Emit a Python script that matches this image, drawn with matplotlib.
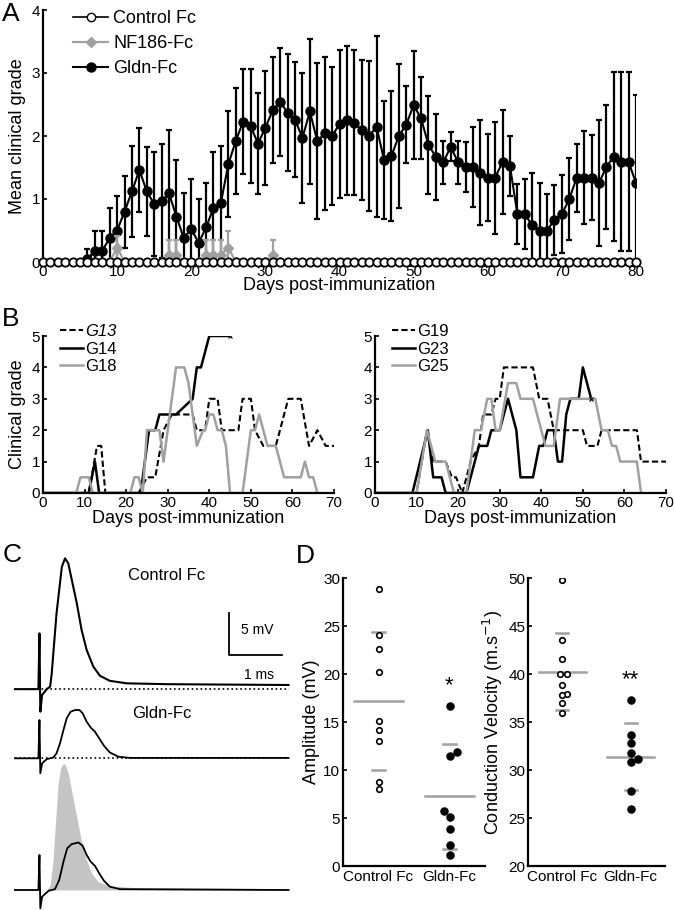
import numpy as np
import matplotlib
matplotlib.use("Agg")
import matplotlib.pyplot as plt
from matplotlib.lines import Line2D

plt.rcParams['font.family'] = ['Liberation Sans', 'DejaVu Sans']

# ---------------- data ----------------
# Panel A: mean clinical grade per day (top of error bar)
days = list(range(0, 81))
gldn_days = list(range(6, 81))
gldn_mean = [0.05, 0.18, 0.18, 0.38, 0.50, 0.80, 1.12, 1.46, 1.12, 0.92,
             0.97, 1.09, 0.72, 0.38, 0.53, 0.30, 0.55, 0.86, 0.94, 1.55,
             1.92, 2.23, 2.16, 1.88, 2.13, 2.41, 2.54, 2.37, 2.26, 1.97,
             2.39, 1.92, 2.04, 2.00, 2.19, 2.25, 2.21, 2.10, 2.00, 2.15,
             1.62, 1.68, 2.00, 2.18, 2.49, 2.28, 1.86, 1.67, 1.58, 1.83,
             1.58, 1.51, 1.51, 1.42, 1.34, 1.34, 1.59, 1.52, 0.76, 0.76,
             0.58, 0.50, 0.50, 0.67, 0.76, 1.00, 1.34, 1.34, 1.34, 1.25,
             1.51, 1.67, 1.59, 1.59, 1.25]
gldn_top = [0.20, 0.50, 0.50, 0.86, 1.05, 1.37, 1.84, 2.13, 1.82, 1.74,
            1.87, 2.10, 1.62, 1.10, 1.32, 1.00, 1.26, 1.74, 1.84, 2.39,
            2.76, 3.06, 3.06, 2.68, 3.03, 3.25, 3.39, 3.30, 3.17, 3.00,
            3.54, 3.16, 3.25, 3.09, 3.36, 3.43, 3.36, 3.21, 3.19, 3.58,
            2.55, 2.71, 3.15, 2.79, 3.35, 2.93, 2.64, 2.35, 1.92, 2.06,
            1.92, 1.91, 2.14, 2.25, 2.03, 2.23, 2.42, 2.00, 1.24, 1.31,
            1.42, 1.26, 1.08, 1.23, 1.38, 1.65, 1.88, 2.08, 2.02, 2.25,
            2.50, 3.01, 3.01, 3.01, 2.65]
nf_days = [9, 10, 11, 16, 17, 18, 19, 21, 22, 23, 24, 25, 26, 30, 31, 32]
nf_mean = [0, 0.23, 0, 0, 0.11, 0.11, 0, 0, 0.11, 0.11, 0.11, 0.23, 0, 0, 0.11, 0]
nf_top = [0, 0.42, 0, 0, 0.35, 0.35, 0, 0, 0.35, 0.35, 0.35, 0.50, 0, 0, 0.35, 0]
control_grade = [0] * 81

# Panel B: individual animals (day, grade vertices)
g13_x = [0, 11, 13, 14, 15, 23, 25, 27, 29, 31, 36, 37, 39, 40, 42, 43, 47, 48,
         50, 51, 53, 56, 57, 59, 62, 64, 66, 68, 70]
g13_y = [0, 0, 1.5, 1.5, 0, 0, 0.5, 0.5, 2, 2.5, 2.5, 2, 2, 3, 3, 2, 2, 3,
         3, 2, 1.5, 1.5, 2, 3, 3, 1.5, 2, 1.5, 1.5]
g14_x = [0, 11, 12.5, 13.5, 23.5, 24.5, 25.5, 27, 28, 32, 36, 37, 38, 40, 45]
g14_y = [0, 0, 1, 0, 0, 1, 2, 2, 2.5, 2.5, 3, 4, 4, 5, 5]
g18_x = [0, 8, 9, 11, 12, 21, 22, 23, 24, 25, 28, 29, 30.5, 32, 34, 35, 37, 38.5,
         39, 40, 41, 42, 43, 44, 45, 48, 50, 51, 52, 54, 56, 58, 62, 63, 64, 65, 66]
g18_y = [0, 0, 0.5, 0.5, 0, 0, 0.5, 0.5, 0, 2, 2, 1, 2.5, 4, 4, 3.5, 1.5, 2,
         2, 2.5, 2.5, 2, 2, 1.5, 0, 0, 2, 2, 2.5, 1.5, 1.5, 0.5, 0.5, 1, 0.5, 0.5, 0]
g19_x = [0, 10, 12.5, 14, 17, 18.5, 19.5, 21, 23, 25, 26, 28, 29, 30, 31, 38,
         39.5, 41.5, 43, 50, 51, 53.5, 54.5, 63, 64, 70]
g19_y = [0, 0, 2, 1, 1, 0.5, 0.5, 0, 1, 1.5, 2.5, 2.5, 3, 3, 4, 4,
         3, 3, 2, 2, 1.5, 1.5, 2, 2, 1, 1]
g23_x = [0, 9, 12.7, 14, 16, 17, 22, 25, 27, 28, 30, 32, 34, 35, 38, 39.5, 40.5,
         41.5, 43, 44, 45, 46, 47, 49, 50, 52]
g23_y = [0, 0, 2, 0.5, 0.5, 0, 0, 1.5, 1.5, 2, 2, 3, 2, 0.5, 0.5, 1.5, 1.5,
         2, 2, 1, 1, 2.5, 3, 3, 4, 3]
g25_x = [0, 10, 12.5, 14.5, 17, 19, 22, 24, 25.5, 27, 28, 29, 30, 32, 34, 35, 38,
         40, 41, 43, 44.5, 53, 54.5, 56, 57, 58, 59, 63, 64]
g25_y = [0, 0, 2, 1, 1, 0, 0, 2, 2, 3, 3, 2, 2, 3.5, 3.5, 3, 3,
         2, 1.5, 1.5, 3, 3, 2, 2, 1.5, 1.5, 1, 1, 0]

# Panel C: compound action potentials (ms, mV)
ctrl_t = [-0.47, -0.03, -0.01, 0.006, 0.04, 0.125, 0.19, 0.22, 0.31, 0.41, 0.47,
          0.53, 0.59, 0.69, 0.78, 0.875, 1.0, 1.125, 1.31, 1.625, 2.375, 4.66]
ctrl_v = [0, 0, 6.7, -2.7, -0.7, 0, 0.3, 1.9, 9.1, 14.7, 15.7,
          15.1, 13.3, 10.3, 7.1, 4.7, 2.7, 1.6, 1.0, 0.7, 0.6, 0.5]
gldn_t = [-0.47, -0.03, -0.01, 0.006, 0.04, 0.125, 0.25, 0.31, 0.375, 0.44, 0.5,
          0.575, 0.66, 0.74, 0.8, 0.875, 0.95, 1.03, 1.11, 1.2, 1.31, 1.47, 1.69, 4.66]
gldn_v = [0, 0, 4.6, -1.8, -0.6, -0.1, 0.1, 0.6, 1.8, 3.4, 4.8,
          5.6, 5.8, 5.8, 5.4, 4.4, 3.7, 3.2, 2.4, 1.5, 0.7, 0.2, 0.05, 0.05]
ovl_t = [-0.47, -0.03, -0.01, 0.006, 0.04, 0.16, 0.28, 0.36, 0.44, 0.51, 0.59,
         0.72, 0.8, 0.875, 0.95, 1.03, 1.11, 1.2, 1.31, 1.5, 4.66]
ovl_v = [0, 0, 4.2, -2.2, -0.8, -0.1, 0.1, 1.2, 3.4, 5.0, 5.5,
         5.7, 5.3, 4.2, 3.4, 2.9, 2.0, 1.1, 0.4, 0.1, 0]
fill_t = [0.125, 0.19, 0.24, 0.29, 0.34, 0.39, 0.44, 0.48, 0.53, 0.59, 0.675,
          0.76, 0.86, 0.97, 1.09, 1.31, 1.75, 4.66]
fill_v = [0, 0.6, 3.2, 8.0, 12.8, 14.7, 15.2, 15.0, 14.0, 12.0, 9.2,
          6.4, 3.8, 2.0, 1.0, 0.5, 0.3, 0.15]

# Panel D: amplitude and conduction velocity
groups = ['Control Fc', 'Gldn-Fc']
amp_ctrl = [28.9, 24.1, 22.6, 20.2, 15.1, 14.2, 13.0, 8.7, 8.0]
amp_gldn = [16.7, 11.9, 11.5, 5.7, 5.1, 3.9, 2.2, 1.1]
cv_ctrl = [49.8, 43.5, 41.6, 40.0, 40.0, 38.9, 37.9, 37.8, 37.0, 35.9]
cv_gldn = [37.3, 33.6, 32.8, 31.8, 31.1, 30.8, 27.8, 25.9]
amp_ctrl_dx = [0, 0, 0, 0, 0, 0, 0, 0, 0]
amp_gldn_dx = [0, 0.1, 0, -0.08, 0, 0, 0, 0]
cv_ctrl_dx = [0, 0, 0, -0.03, 0.07, 0, 0.07, -0.01, 0, 0]
cv_gldn_dx = [0, 0, 0, 0, 0.1, 0.01, 0, 0]

GRAY = '#a0a0a0'
W, H = 675, 910


def px_axes(fig, l, t, r, b):
    return fig.add_axes([l / W, 1 - b / H, (r - l) / W, (b - t) / H])


def style(ax):
    for s in ['top', 'right']:
        ax.spines[s].set_visible(False)
    for s in ['left', 'bottom']:
        ax.spines[s].set_linewidth(1.6)
    ax.tick_params(direction='in', length=3, width=1.2, labelsize=11, pad=2)


fig = plt.figure(figsize=(6.75, 9.10), dpi=100)

# ---------------- A ----------------
ax = px_axes(fig, 43, 10, 636, 262)
style(ax)
ax.errorbar(gldn_days, gldn_mean, yerr=np.array(gldn_top) - np.array(gldn_mean),
            color='black', marker='o', ms=6.5, lw=1.5, elinewidth=1.6,
            capsize=2.5, capthick=1.6, zorder=3)
ax.errorbar(nf_days, nf_mean, yerr=np.array(nf_top) - np.array(nf_mean),
            color=GRAY, marker='D', ms=5, lw=1.6, elinewidth=1.6, capsize=2.5,
            capthick=1.6, zorder=4)
ax.plot(days, control_grade, color='black', marker='o', ms=6, mfc='white',
        mec='black', mew=1.3, lw=1.2, zorder=5, clip_on=False)
ax.set_xlim(0, 80)
ax.set_ylim(0, 4)
ax.set_xticks(range(0, 81, 10))
ax.set_yticks(range(0, 5))
ax.set_xlabel('Days post-immunization', fontsize=13, labelpad=-1)
ax.set_ylabel('Mean clinical grade', fontsize=13, labelpad=4)
handles = [
    Line2D([], [], color='black', marker='o', ms=6, mfc='white', mec='black', lw=1.2),
    Line2D([], [], color=GRAY, marker='D', ms=5, lw=1.6),
    Line2D([], [], color='black', marker='o', ms=6.5, lw=1.5),
]
ax.legend(handles, ['Control Fc', 'NF186-Fc', 'Gldn-Fc'], loc='upper left',
          bbox_to_anchor=(0.03, 1.05), frameon=False, fontsize=13,
          handlelength=1.9, handletextpad=0.3, labelspacing=0.45, borderpad=0.2)

# ---------------- B ----------------
axb1 = px_axes(fig, 43, 336, 334, 493)
axb2 = px_axes(fig, 375, 336, 666, 493)
for a in (axb1, axb2):
    style(a)
    a.set_xlim(0, 70)
    a.set_ylim(0, 5)
    a.set_xticks(range(0, 71, 10))
    a.set_yticks(range(0, 6))
    a.set_xlabel('Days post-immunization', fontsize=13, labelpad=0.5)

axb1.plot(g13_x, g13_y, color='black', ls=(0, (3, 1.5)), lw=1.5, label='G13')
axb1.plot(g14_x, g14_y, color='black', lw=1.8, label='G14')
axb1.plot(g18_x, g18_y, color=GRAY, lw=1.8, label='G18')
axb1.plot([g14_x[-1]], [g14_y[-1]], marker='x', ms=3, color='black', mew=0.8)
axb1.set_ylabel('Clinical grade', fontsize=13, labelpad=4)
leg_kw = dict(loc='upper left', bbox_to_anchor=(0.02, 1.15), frameon=False,
              fontsize=12, handlelength=1.35, handletextpad=0.15,
              labelspacing=0.15, borderpad=0.2)
leg = axb1.legend(**leg_kw)
leg.get_texts()[0].set_fontstyle('italic')

axb2.plot(g19_x, g19_y, color='black', ls=(0, (3, 1.5)), lw=1.5, label='G19')
axb2.plot(g23_x, g23_y, color='black', lw=1.8, label='G23')
axb2.plot(g25_x, g25_y, color=GRAY, lw=1.8, label='G25')
axb2.plot([g23_x[-1]], [g23_y[-1]], marker='x', ms=3, color='black', mew=0.8)
axb2.legend(**leg_kw)

# ---------------- C ----------------
axc = px_axes(fig, 0, 540, 340, 910)
axc.set_xlim(-0.75, 5.625)
axc.set_ylim(-2.4, 42.0)
axc.axis('off')
off_ctrl, off_gldn = 24.1, 15.8
axc.plot([-0.47, 4.66], [off_ctrl, off_ctrl], color='black', ls=':', lw=1.2)
axc.plot([-0.47, 4.66], [off_gldn, off_gldn], color='black', ls=':', lw=1.2)
axc.plot(ctrl_t, np.array(ctrl_v) + off_ctrl, color='black', lw=1.5)
axc.plot(gldn_t, np.array(gldn_v) + off_gldn, color='black', lw=1.3)
axc.fill_between(fill_t, 0, fill_v, color='#c4c4c4', lw=0)
axc.plot(ovl_t, ovl_v, color='black', lw=1.3)
axc.plot([3.54, 3.54, 4.54], [33.2, 28.2, 28.2], color='black', lw=1.3)
axc.text(4.07, 31.2, '5 mV', fontsize=10, ha='center', va='center')
axc.text(4.1, 25.8, '1 ms', fontsize=10, ha='center', va='center')
axc.text(2.38, 37.8, 'Control Fc', fontsize=12, ha='center', va='center')
axc.text(2.29, 21.2, 'Gldn-Fc', fontsize=12, ha='center', va='center')

# ---------------- D ----------------
def dot_panel(a, ctrl, gldn, dctrl, dgldn, ylim, step, star, star_y, ylabel):
    style(a)
    a.scatter(1 + np.array(dctrl), ctrl, s=16, facecolor='white',
              edgecolor='black', lw=1.2, zorder=3)
    a.scatter(2 + np.array(dgldn), gldn, s=26, color='black', zorder=3)
    for x, vals in ((1, ctrl), (2, gldn)):
        m = np.mean(vals)
        sd = np.std(vals, ddof=1)
        a.plot([x - 0.34, x + 0.34], [m, m], color=GRAY, lw=1.8, zorder=2)
        for v in (m - sd, m + sd):
            a.plot([x - 0.09, x + 0.09], [v, v], color=GRAY, lw=1.8, zorder=2)
    a.text(2, star_y, star, fontsize=16, ha='center', va='center')
    a.set_xlim(0.5, 2.5)
    a.set_ylim(*ylim)
    a.set_yticks(np.arange(ylim[0], ylim[1] + 1, step))
    a.set_xticks([1, 2])
    a.set_xticklabels(groups, fontsize=11)
    a.tick_params(axis='x', length=0, pad=3)
    a.set_ylabel(ylabel, fontsize=13, labelpad=2)


axd1 = px_axes(fig, 343, 578, 485, 866)
dot_panel(axd1, amp_ctrl, amp_gldn, amp_ctrl_dx, amp_gldn_dx, (0, 30), 5,
          '*', 18.8, 'Amplitude (mV)')
axd2 = px_axes(fig, 528, 578, 665, 866)
dot_panel(axd2, cv_ctrl, cv_gldn, cv_ctrl_dx, cv_gldn_dx, (20, 50), 5,
          '**', 39.4, 'Conduction Velocity (m.s$^{-1}$)')

# panel letters
for lab, x, y in (('A', 2, 2), ('B', 2, 307), ('C', 3, 543), ('D', 296, 544)):
    fig.text(x / W, 1 - y / H, lab, fontsize=19, ha='left', va='top')

fig.savefig('out.png', dpi=100)
